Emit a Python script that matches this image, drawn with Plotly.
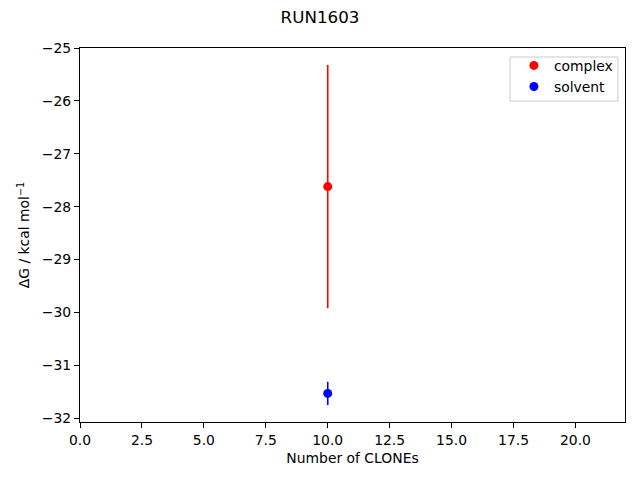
import plotly.graph_objects as go

title = "RUN1603"
series_names = ["complex", "solvent"]
series_colors = ["red", "blue"]
clones = [10, 10]
dg_values = [-27.62, -31.53]
dg_errors = [2.30, 0.22]
x_ticks = [0, 2.5, 5, 7.5, 10, 12.5, 15, 17.5, 20]
y_ticks = [-32, -31, -30, -29, -28, -27, -26, -25]

FONT = "DejaVu Sans"
# the page body has an 8px margin, so the figure is sized to fill the rest of the window
W, H = 632, 472
fig = go.Figure()
for name, color, x, y, e in zip(series_names, series_colors, clones, dg_values, dg_errors):
    fig.add_trace(go.Scatter(
        x=[x], y=[y], mode="markers", name=name,
        marker=dict(color=color, size=9),
        error_y=dict(type="data", array=[e], visible=True, color=color,
                     thickness=1.6, width=0),
    ))

axis_common = dict(
    showline=True, linecolor="black", linewidth=1.1, mirror=True,
    ticks="outside", ticklen=5, tickwidth=1.1, tickcolor="black",
    showgrid=False, zeroline=False,
    tickfont=dict(family=FONT, size=13.9, color="black"),
)
# legend frame (matplotlib-style box)
fig.add_shape(type="rect", xref="paper", yref="paper",
              x0=0.789, x1=0.987, y0=0.858, y1=0.976,
              line=dict(color="#cccccc", width=1),
              fillcolor="rgba(255,255,255,0.8)", layer="above")
fig.update_layout(
    width=W, height=H,
    margin=dict(l=72, r=15, t=40, b=58),
    paper_bgcolor="white", plot_bgcolor="white",
    title=dict(text=title, x=312 / W, xanchor="center", y=1 - 9 / H, yanchor="middle",
               font=dict(family=FONT, size=16.7, color="black")),
    font=dict(family=FONT, size=13.9, color="black"),
    xaxis=dict(range=[0, 22], tickvals=x_ticks,
               ticktext=[f"{v:.1f}" for v in x_ticks],
               title=dict(text="Number of CLONEs", standoff=6,
                          font=dict(family=FONT, size=13.9)),
               **axis_common),
    yaxis=dict(range=[-32.07, -25.0], tickvals=y_ticks,
               ticktext=[f"\u2212{abs(v)}" for v in y_ticks],
               title=dict(text="\u0394G / kcal mol<sup>\u22121</sup>", standoff=8,
                          font=dict(family=FONT, size=13.9)),
               **axis_common),
    legend=dict(x=0.987, y=0.995, xanchor="right", yanchor="top",
                borderwidth=0, bgcolor="rgba(0,0,0,0)",
                font=dict(family=FONT, size=13.9)),
    showlegend=True,
)
fig.write_html("out.html")
